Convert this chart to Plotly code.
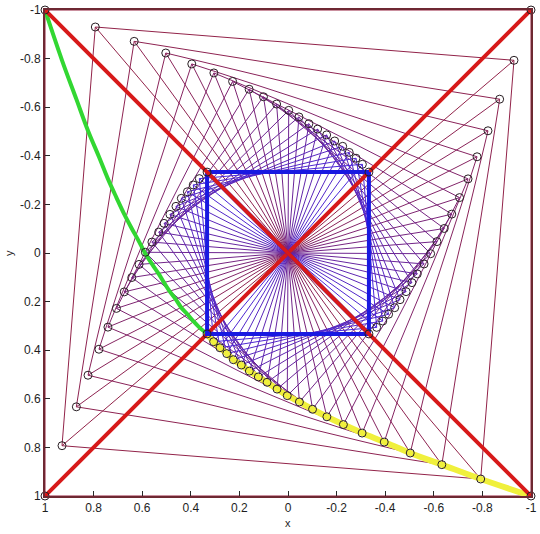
import plotly.graph_objects as go

# One corner (displayed top-left) of each nested square, outer -> inner
sq_x = [1.0, 0.793, 0.633, 0.503, 0.396, 0.305, 0.228, 0.160, 0.101, 0.047, -0.003,
        -0.045, -0.086, -0.122, -0.159, -0.192, -0.225, -0.252, -0.280, -0.306, -0.333]
sq_y = [-1.0, -0.930, -0.871, -0.823, -0.778, -0.741, -0.706, -0.674, -0.643, -0.613, -0.587,
        -0.560, -0.532, -0.510, -0.486, -0.461, -0.439, -0.414, -0.390, -0.365, -0.333]

# green curve
green_x = [1.0, 0.930, 0.871, 0.823, 0.778, 0.741, 0.706, 0.674, 0.643, 0.613, 0.587,
           0.560, 0.532, 0.510, 0.486, 0.461, 0.439, 0.414, 0.390, 0.365, 0.333]
green_y = [-1.0, -0.793, -0.633, -0.503, -0.396, -0.305, -0.228, -0.160, -0.101, -0.047, 0.003,
           0.045, 0.086, 0.122, 0.159, 0.192, 0.225, 0.252, 0.280, 0.306, 0.333]

tick_vals = [1, 0.8, 0.6, 0.4, 0.2, 0, -0.2, -0.4, -0.6, -0.8, -1]
tick_text = ["1", "0.8", "0.6", "0.4", "0.2", "0", "-0.2", "-0.4", "-0.6", "-0.8", "-1"]


def corners(x, y):
    # TL, TR, BR, BL of a square centred at the origin
    return [(x, y), (y, -x), (-x, -y), (-y, x)]


n = len(sq_x)
fig = go.Figure()

# thin squares with both diagonals
for k in range(n - 1):
    t = k / (n - 1)
    col = "rgb(%d,%d,%d)" % (int(150 * (1 - t) + 70 * t), int(35 * (1 - t) + 40 * t), int(65 * (1 - t) + 225 * t))
    c = corners(sq_x[k], sq_y[k])
    xs = [p[0] for p in c] + [c[0][0], None, c[0][0], c[2][0], None, c[1][0], c[3][0]]
    ys = [p[1] for p in c] + [c[0][1], None, c[0][1], c[2][1], None, c[1][1], c[3][1]]
    fig.add_trace(go.Scatter(x=xs, y=ys, mode="lines", line=dict(color=col, width=1),
                             hoverinfo="skip", showlegend=False))

# yellow path through the displayed bottom-right corners
yel_x = [-v for v in sq_x]
yel_y = [-v for v in sq_y]
fig.add_trace(go.Scatter(x=yel_x, y=yel_y, mode="lines", line=dict(color="rgb(240,240,60)", width=6, shape="spline"),
                         hoverinfo="skip", showlegend=False))
# green curve
fig.add_trace(go.Scatter(x=green_x, y=green_y, mode="lines", line=dict(color="rgb(50,215,50)", width=4, shape="spline"),
                         hoverinfo="skip", showlegend=False))

c0 = corners(sq_x[0], sq_y[0])
# red diagonal BL-TR
fig.add_trace(go.Scatter(x=[c0[3][0], c0[1][0]], y=[c0[3][1], c0[1][1]], mode="lines",
                         line=dict(color="rgb(215,25,25)", width=4), hoverinfo="skip", showlegend=False))
# blue inner square with one diagonal
cb = corners(sq_x[-1], sq_y[-1])
bx = [p[0] for p in cb] + [cb[0][0], None, cb[3][0], cb[1][0]]
by = [p[1] for p in cb] + [cb[0][1], None, cb[3][1], cb[1][1]]
fig.add_trace(go.Scatter(x=bx, y=by, mode="lines", line=dict(color="rgb(25,25,225)", width=4),
                         hoverinfo="skip", showlegend=False))
# red diagonal TL-BR
fig.add_trace(go.Scatter(x=[c0[0][0], c0[2][0]], y=[c0[0][1], c0[2][1]], mode="lines",
                         line=dict(color="rgb(215,25,25)", width=4), hoverinfo="skip", showlegend=False))

# vertex circles
mx, my = [], []
for k in range(n):
    for p in corners(sq_x[k], sq_y[k]):
        mx.append(p[0])
        my.append(p[1])
fig.add_trace(go.Scatter(x=mx, y=my, mode="markers", cliponaxis=False,
                         marker=dict(symbol="circle-open", size=8, color="rgb(40,30,35)", line=dict(width=1)),
                         hoverinfo="skip", showlegend=False))

font = dict(family="Liberation Sans, Arial", size=12, color="rgb(30,30,30)")
axis_common = dict(showgrid=False, zeroline=False, showline=True, mirror=True, automargin=False,
                   linecolor="rgb(110,40,50)", linewidth=2, ticks="inside", ticklen=5,
                   tickcolor="rgb(40,40,40)", tickvals=tick_vals, ticktext=tick_text,
                   tickfont=font)
fig.update_xaxes(range=[1, -1], **axis_common)
fig.update_yaxes(range=[1, -1], **axis_common)
fig.add_annotation(text="x", xref="paper", yref="paper", x=0.5, y=0, yshift=-19, yanchor="top",
                   showarrow=False, font=dict(family="Liberation Sans, Arial", size=11, color="rgb(30,30,30)"))
fig.add_annotation(text="y", xref="paper", yref="paper", x=0, xshift=-36, y=0.5, xanchor="center",
                   textangle=-90, showarrow=False, font=dict(family="Liberation Sans, Arial", size=11, color="rgb(30,30,30)"))
fig.update_layout(width=540, height=534, margin=dict(l=45, r=9, t=10, b=38),
                  paper_bgcolor="white", plot_bgcolor="white", showlegend=False)
fig.write_html("out.html", config={"displayModeBar": False},
               post_script="document.body.style.margin='0px';")
